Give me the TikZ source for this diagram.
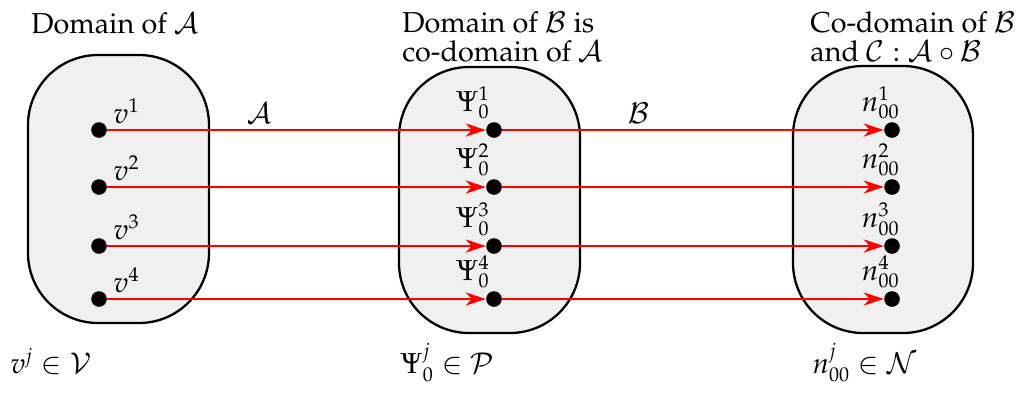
\documentclass[tikz,border=0pt]{standalone}
\usepackage[T1]{fontenc}
\usepackage{mathpazo}
\usetikzlibrary{arrows.meta}
\definecolor{boxgray}{HTML}{F0F0F0}
\begin{document}
\begin{tikzpicture}[x=0.5pt,y=-0.5pt,
  font=\fontsize{14.4}{14.5}\selectfont,
  box/.style={draw, line width=1.15pt, fill=boxgray, rounded corners=35pt, inner sep=0},
  dot/.style={circle, fill=black, inner sep=0, minimum size=7.8pt},
  map/.style={draw=red, line width=1.35pt, -{Stealth[length=10pt,width=6.5pt,inset=3pt]}, shorten <=0pt, shorten >=0pt},
  lbl/.style={inner sep=0}]
\useasboundingbox (0,0) rectangle (1023,392);
% domains
\node[box, minimum width=90.5pt, minimum height=134pt] (DA) at (118.5,189) {};
\node[box, minimum width=90.5pt, minimum height=133pt] (DB) at (489.5,200) {};
\node[box, minimum width=90pt, minimum height=133.5pt] (DC) at (883,199.5) {};
% titles
\node[lbl, anchor=base west] (tA) at (31,33) {Domain of $\mathcal{A}$};
\node[lbl, anchor=north west, align=left] (tB) at (402,11) {Domain of $\mathcal{B}$ is\\co-domain of $\mathcal{A}$};
\node[lbl, anchor=north west, align=left] (tC) at (810,11) {Co-domain of $\mathcal{B}$\\and $\mathcal{C}:\mathcal{A}\circ\mathcal{B}$};
% dots
\foreach \i/\y in {1/130,2/187,3/246,4/299}{
  \node[dot] (L\i) at (99,\y) {};
  \node[dot] (M\i) at (494,\y) {};
  \node[dot] (R\i) at (892,\y) {};
  \node[lbl, anchor=base west] (vl\i) at ([xshift=7pt,yshift=3.5pt]L\i.center) {$v^{\i}$};
  \node[lbl, anchor=base east] (ml\i) at ([xshift=-2pt,yshift=9.5pt]M\i.center) {$\Psi_0^{\i}$};
  \node[lbl, anchor=base east] (rl\i) at ([xshift=4pt,yshift=9.5pt]R\i.center) {$n_{00}^{\i}$};
  \draw[map] (L\i) -- (M\i);
  \draw[map] (M\i) -- (R\i);
}
% mapping labels
\node[lbl, anchor=base west] (mA) at (247,123) {$\mathcal{A}$};
\node[lbl, anchor=base west] (mB) at (628,123) {$\mathcal{B}$};
% sets
\node[lbl, anchor=base west] (sV) at (10,373) {$v^j\in\mathcal{V}$};
\node[lbl, anchor=base west] (sP) at (400,373) {$\Psi_0^j\in\mathcal{P}$};
\node[lbl, anchor=base west] (sN) at (812,373) {$n_{00}^j\in\mathcal{N}$};
\end{tikzpicture}
\end{document}
